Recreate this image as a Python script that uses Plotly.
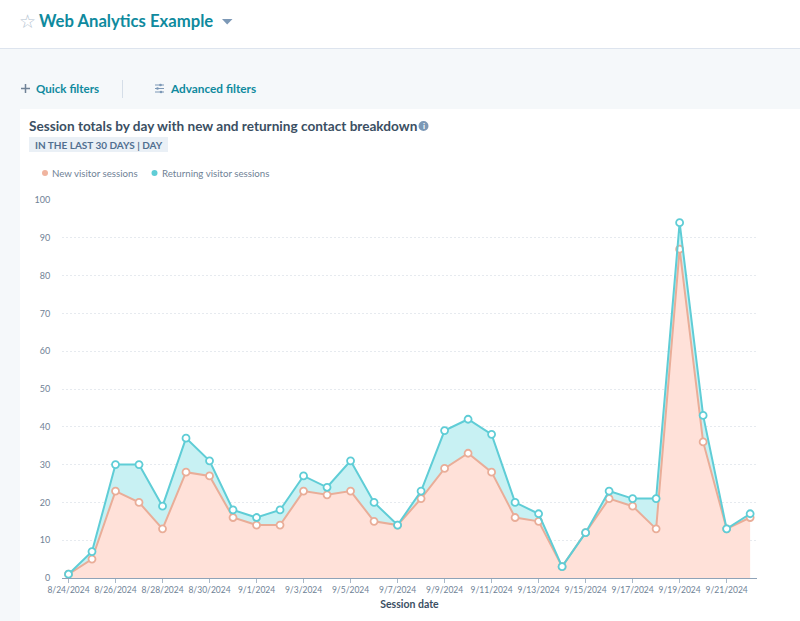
import plotly.graph_objects as go

# Session counts per day
dates = ['2024-08-24', '2024-08-25', '2024-08-26', '2024-08-27', '2024-08-28', '2024-08-29',
         '2024-08-30', '2024-08-31', '2024-09-01', '2024-09-02', '2024-09-03', '2024-09-04',
         '2024-09-05', '2024-09-06', '2024-09-07', '2024-09-08', '2024-09-09', '2024-09-10',
         '2024-09-11', '2024-09-12', '2024-09-13', '2024-09-14', '2024-09-15', '2024-09-16',
         '2024-09-17', '2024-09-18', '2024-09-19', '2024-09-20', '2024-09-21', '2024-09-22']
new_sessions = [1, 5, 23, 20, 13, 28, 27, 16, 14, 14, 23, 22, 23, 15, 14,
                21, 29, 33, 28, 16, 15, 3, 12, 21, 19, 13, 87, 36, 13, 16]
returning_sessions = [0, 2, 7, 10, 6, 9, 4, 2, 2, 4, 4, 2, 8, 5, 0,
                      2, 10, 9, 10, 4, 2, 0, 0, 2, 2, 8, 7, 7, 0, 1]

W, H = 800, 621
FONT = 'Lato'
TEAL_TEXT = '#0f8a9e'
DARK = '#3b4f63'
GREY = '#6f8296'
NEW_COLOR = '#e9ad98'
RET_COLOR = '#5fcdd6'
ICON = '#7c98b6'


# page pixels to paper coordinates
def px(x):
    return x / W


def py(y):
    return 1 - y / H


def rect(x0, y0, x1, y1, color):
    return dict(type='rect', xref='paper', yref='paper', x0=px(x0), x1=px(x1), y0=py(y0), y1=py(y1),
                fillcolor=color, line_width=0, layer='below')


def hline(x0, x1, y, color, w=1):
    return dict(type='line', xref='paper', yref='paper', x0=px(x0), x1=px(x1), y0=py(y), y1=py(y),
                line=dict(color=color, width=w), layer='above')


def vline(x, y0, y1, color, w=1):
    return dict(type='line', xref='paper', yref='paper', x0=px(x), x1=px(x), y0=py(y0), y1=py(y1),
                line=dict(color=color, width=w), layer='above')


def dot(x, y, r, color):
    return dict(type='circle', xref='paper', yref='paper', x0=px(x - r), x1=px(x + r), y0=py(y - r), y1=py(y + r),
                fillcolor=color, line_width=0, layer='above')


def label(x, y, text, size, color, bold=False, anchor='left'):
    # annotations carry about 2px of padding, so pull left aligned text back
    x = x - 2 if anchor == 'left' else x
    return dict(xref='paper', yref='paper', x=px(x), y=py(y), xanchor=anchor, yanchor='middle',
                text='<b>%s</b>' % text if bold else text, showarrow=False,
                font=dict(family=FONT, size=size, color=color))


fig = go.Figure()

fig.add_trace(go.Scatter(
    x=dates, y=new_sessions, stackgroup='one', mode='lines+markers', name='New visitor sessions',
    line=dict(color=NEW_COLOR, width=2), fillcolor='#ffe1d9',
    marker=dict(size=7, color='white', line=dict(color=NEW_COLOR, width=1.8)),
))
fig.add_trace(go.Scatter(
    x=dates, y=returning_sessions, stackgroup='one', mode='lines+markers', name='Returning visitor sessions',
    line=dict(color=RET_COLOR, width=2), fillcolor='#c8f1f3',
    marker=dict(size=7, color='white', line=dict(color=RET_COLOR, width=1.8)),
))

caret = 'M %f,%f L %f,%f L %f,%f Z' % (px(222), py(19), px(232.5), py(19), px(227.2), py(24.5))

shapes = [
    rect(0, 0, W, 48, 'white'),
    hline(0, W, 48.5, '#dde4ee'),
    rect(20, 109, W, H, 'white'),
    rect(29, 137, 168, 152, '#eaf0f6'),
    dict(type='path', xref='paper', yref='paper', path=caret, fillcolor=ICON, line_width=0),
    # plus icon
    hline(21, 30, 88.5, GREY, 1.5),
    vline(25.5, 84, 93, GREY, 1.5),
    # divider between the filter buttons
    vline(122.5, 80, 98, '#d5dee8'),
    # sliders icon
    hline(155, 164, 85, ICON),
    hline(155, 164, 88.5, ICON),
    hline(155, 164, 92, ICON),
    dot(160.5, 85, 1.3, ICON),
    dot(157.5, 88.5, 1.3, ICON),
    dot(161, 92, 1.3, ICON),
    # info icon
    dot(423.5, 126, 5, ICON),
    # legend dots
    dot(45, 173, 3, '#f0b49f'),
    dot(154.5, 173, 3, RET_COLOR),
]

annotations = [
    label(27, 20, '☆', 19, '#b3c2d1', anchor='center'),
    label(39, 21, 'Web Analytics Example', 16.7, TEAL_TEXT, bold=True),
    label(36, 88.5, 'Quick filters', 11.6, TEAL_TEXT, bold=True),
    label(169.5, 88.5, 'Advanced filters', 11.8, TEAL_TEXT, bold=True),
    label(28.5, 126, 'Session totals by day with new and returning contact breakdown', 13.6, DARK, bold=True),
    label(423.5, 126, 'i', 8, 'white', bold=True, anchor='center'),
    label(34.5, 144.5, 'IN THE LAST 30 DAYS | DAY', 10, '#516f90', bold=True),
    label(52, 173, 'New visitor sessions', 9.7, GREY),
    label(161.5, 173, 'Returning visitor sessions', 9.7, GREY),
]

fig.update_layout(
    width=W, height=H,
    margin=dict(l=0, r=0, t=0, b=0),
    paper_bgcolor='#f5f8fa',
    plot_bgcolor='rgba(0,0,0,0)',
    showlegend=False,
    shapes=shapes,
    annotations=annotations,
    font=dict(family=FONT, color=GREY),
    xaxis=dict(
        domain=[px(62), px(757)],
        automargin=False,
        type='date',
        range=['2024-08-23 17:22', '2024-09-22 07:00'],
        tick0='2024-08-24', dtick=2 * 86400000,
        tickformat='%-m/%-d/%Y', tickangle=0,
        tickfont=dict(size=8.5, color=GREY),
        ticks='outside', ticklen=4, tickcolor='#a9b8c8',
        showgrid=False, zeroline=False,
        showline=True, linecolor='#8fa3b8', linewidth=1,
        title=dict(text='<b>Session date</b>', font=dict(size=10.5, color=DARK), standoff=6),
    ),
    yaxis=dict(
        domain=[py(578), py(200)],
        automargin=False,
        range=[0, 100], dtick=10,
        tickfont=dict(size=9, color=GREY),
        ticks='outside', ticklen=9, tickcolor='rgba(0,0,0,0)',
        showline=False, zeroline=False,
        showgrid=True, gridcolor='#e6eaef', griddash='2px,2px', gridwidth=1,
    ),
)

fig.write_html("out.html", config=dict(displayModeBar=False), post_script="document.body.style.margin='0';")
